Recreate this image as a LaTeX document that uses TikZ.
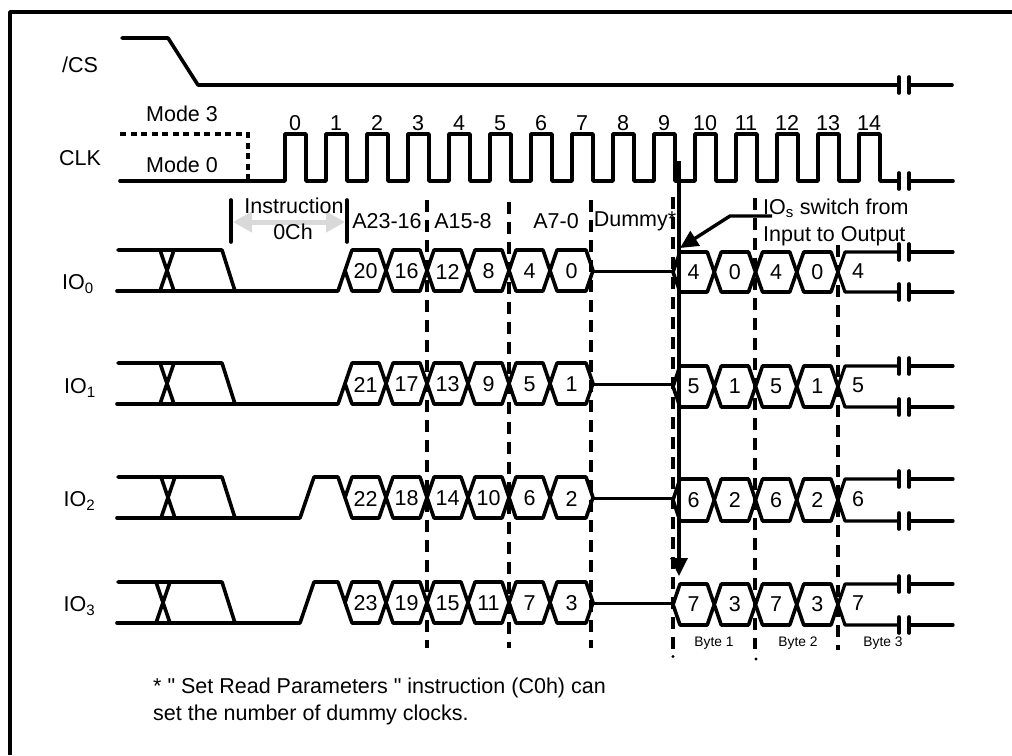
\documentclass[tikz,border=0pt]{standalone}
\usepackage{fontspec}
\setmainfont{Liberation Sans}
\newfontfamily\plainfont{Liberation Sans}
\usetikzlibrary{arrows.meta,calc}
\definecolor{greyarrow}{HTML}{D9D9D9}
\tikzset{
  wire/.style={draw=black, line width=3.6pt, line join=round, line cap=round},
  thinwire/.style={wire, line width=3.2pt},
  guide/.style={draw=black, line width=3.2pt, dash pattern=on 12pt off 8pt},
  modeline/.style={draw=black, line width=3.2pt, dash pattern=on 6pt off 4.5pt},
  txt/.style={font=\fontsize{21.5}{25}\selectfont, inner sep=0pt, align=center},
  digit/.style={txt},
  smalltxt/.style={font=\fontsize{13.8}{16}\selectfont, inner sep=0pt},
  notetxt/.style={txt, align=left, anchor=north west, font=\fontsize{21.5}{27}\selectfont},
  flow/.style={-{Triangle[length=18pt,width=17pt]}, draw=black, line width=3.4pt},
  span/.style={{Triangle[length=19pt,width=20pt]}-{Triangle[length=19pt,width=20pt]}, draw=greyarrow, line width=5pt},
}
% break in a line, at height #1
\newcommand{\gapmark}[1]{
  \draw[wire] (899,#1-8) -- (899,#1+8);
  \draw[wire] (909,#1-8) -- (909,#1+8);
}
% one data cell between crossings: #1,#2 x, #3 top, #4 bottom
\newcommand{\cell}[4]{
  \draw[wire] (#1,{(#3+#4)/2}) -- (#1+7,#3) -- (#2-7,#3) -- (#2,{(#3+#4)/2})
    -- (#2-7,#4) -- (#1+7,#4) -- cycle;
}
\begin{document}
\begin{tikzpicture}[x=1pt,y=-1pt]
\useasboundingbox (0,0) rectangle (1012,755);
\draw[line width=3.6pt, line join=round] (1012,12) -- (10,12) -- (10,755);

% chip select
\node[txt] (cs) at (80,65) {/CS};
\draw[wire] (122,38) -- (168,38) -- (198,85) -- (899,85);
\draw[wire] (909,85) -- (952,85);
\gapmark{85}

% clock
\node[txt] (clk) at (80,158) {CLK};
\node[txt] (mode3) at (182,114) {Mode 3};
\node[txt] (mode0) at (182,165) {Mode 0};
\draw[modeline] (120,134) -- (248,134) -- (248,181);
\draw[wire] (120,181) -- (285,181)
  \foreach \n in {0,...,14} {
    -- (285+41*\n,181) -- (285+41*\n,134) -- (306+41*\n,134) -- (306+41*\n,181)
  } -- (899,181);
\draw[wire] (909,181) -- (953,181);
\gapmark{181}
\foreach \n in {0,...,14} {
  \node[digit] (tick\n) at (295+41*\n,123) {\n};
}

% guide lines
\draw[guide] (427,200) -- (427,648);
\draw[guide] (509,202) -- (509,648);
\draw[guide] (591,200) -- (591,648);
\draw[guide] (673,197) -- (673,649);
\draw[guide] (755,198) -- (755,649);
\draw[guide] (838,245) -- (838,650);
\fill (673,656.5) circle (1.7pt);
\fill (756,659) circle (1.7pt);

% section labels
\draw[wire] (231,200) -- (231,242);
\draw[wire] (347,200) -- (347,242);
\coordinate (spanl) at (233,222);
\coordinate (spanr) at (345,222);
\draw[span] (spanl) -- (spanr);
\node[txt] (instr) at (294,206) {Instruction};
\node[txt] (instrcode) at (293,232) {0Ch};
\node[txt] (a23) at (387,221) {A23-16};
\node[txt] (a15) at (463,221) {A15-8};
\node[txt] (a7) at (556,221) {A7-0};
\node[txt] (dummy) at (635,221) {Dummy*};
\node[txt, anchor=west] (swa) at (763,208) {IO\textsubscript{s} switch from};
\node[txt, anchor=west] (swb) at (763,236) {Input to Output};

% data lines
\foreach \id/\lx/\ly/\T/\B/\RT/\RB/\xa/\hump/\nums/\numr in {
  0/78/284/250/291/252/292/160/0/{20,16,12,8,4,0}/{4,0,4,0,4},
  1/80/388/363/404/366/407/160/0/{21,17,13,9,5,1}/{5,1,5,1,5},
  2/79.5/501/477/518/479/521/161/1/{22,18,14,10,6,2}/{6,2,6,2,6},
  3/79.5/606/582/623/584/625/156/1/{23,19,15,11,7,3}/{7,3,7,3,7}} {
  \pgfmathsetmacro{\M}{(\T+\B)/2}
  \pgfmathsetmacro{\RM}{(\RT+\RB)/2}
  \node[txt] (io\id) at (\lx,\ly) {IO\textsubscript{\id}};
  % before the address
  \draw[wire] (118,\T) -- (222,\T) -- (235,\B);
  \draw[wire] (117,\B) -- (235,\B);
  \draw[wire] (\xa,\T) -- (\xa+14,\B);
  \draw[wire] (\xa+14,\T) -- (\xa,\B);
  \ifnum\hump=0
    \draw[wire] (235,\B) -- (338,\B) -- (345,\M);
  \else
    \draw[wire] (235,\B) -- (300,\B) -- (314,\T) -- (338,\T) -- (345,\M);
  \fi
  % address cells
  \foreach \n [count=\i from 0] in \nums {
    \pgfmathsetmacro{\ca}{345+\i*41}
    \pgfmathsetmacro{\cb}{345+(\i+1)*41+(\i==5 ? 2 : 0)}
    \cell{\ca}{\cb}{\T}{\B}
    \node[digit] (a\id-\i) at ({(\ca+\cb)/2},\M+1) {\n};
  }
  % dummy
  \draw[thinwire] (593,\M+1) -- (673,\M+1);
  % data cells
  \foreach \n [count=\i from 0] in \numr {
    \pgfmathsetmacro{\ca}{673+\i*41.25}
    \ifnum\i<4
      \pgfmathsetmacro{\cb}{673+(\i+1)*41.25}
      \cell{\ca}{\cb}{\RT}{\RB}
      \node[digit] (d\id-\i) at ({(\ca+\cb)/2},\RM) {\n};
    \else
      \node[digit] (d\id-\i) at (858,\RM-1) {\n};
    \fi
  }
  \draw[thinwire] (838,\RM) -- (845,\RT) -- (899,\RT);
  \draw[thinwire] (838,\RM) -- (845,\RB) -- (899,\RB);
  \draw[thinwire] (909,\RT) -- (953,\RT);
  \draw[thinwire] (909,\RB) -- (953,\RB);
  \gapmark{\RT}
  \gapmark{\RB}
}

% direction change
\coordinate (turnstart) at (679,161);
\coordinate (turnend) at (679,576);
\draw[flow] (turnstart) -- (turnend);
\coordinate (notestart) at (772,216);
\coordinate (notebend) at (730,216);
\coordinate (noteend) at (680,248);
\draw[flow] (notestart) -- (notebend) -- (noteend);

% bytes
\node[smalltxt] (byte1) at (714,643) {Byte 1};
\node[smalltxt] (byte2) at (798,643) {Byte 2};
\node[smalltxt] (byte3) at (883,643) {Byte 3};

\node[notetxt] (note) at (153,678) {* {\plainfont"} Set Read Parameters {\plainfont"} instruction (C0h) can\\set the number of dummy clocks.};
\end{tikzpicture}
\end{document}
